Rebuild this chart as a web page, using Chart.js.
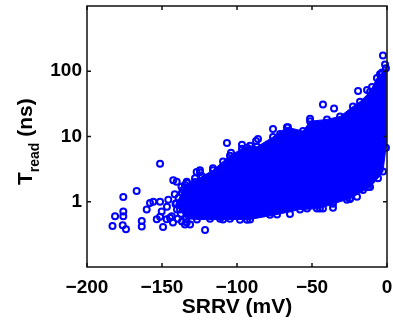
<!DOCTYPE html>
<html>
<head>
<meta charset="utf-8">
<script src="https://cdn.jsdelivr.net/npm/chart.js@4.4.1/dist/chart.umd.min.js"></script>
<style>
body{margin:0;background:#fff;}
#wrap{width:393px;height:329px;position:relative;}
</style>
</head>
<body>
<div id="wrap"><canvas id="grafica"></canvas></div>
<script>
// ticks
const xTicks=[-200,-150,-100,-50,0];
const yTicks=[1,10,100];

// borde superior de la nube densa (izq -> der)
const upperX=[-134.7,-128,-123.3,-116,-109.3,-104.7,-96.7,-91.3,-86.7,-76,-66.7,-56,-51.3,-40,-31.3,-22.7,-18,-11.3,-6.7,-3.3,-0.7];
const upperY=[1.80,2.0,2.45,3.03,4.14,5.09,6.49,7.20,6.95,9.83,13.9,12.1,17.1,18.3,20.3,28.8,34.2,48.3,78.5,93.3,111];
// borde inferior de la nube densa (der -> izq), acaba en la punta izquierda
const lowerX=[-0.7,-2.7,-6,-11.3,-24.7,-36,-44.7,-58,-73.3,-91.3,-109.3,-126.7,-134,-140.5];
const lowerY=[6.71,2.9,2.3,1.68,1.11,0.93,0.785,0.758,0.638,0.536,0.536,0.536,0.55,0.95];

// puntos sueltos (nube izquierda y los que sobresalen del borde)
const pointsX=[-183,-181.3,-176.2,-175.8,-175.8,-175.8,-174,-166.9,-163.5,-163.5,-160.2,-158,-155.8,-153.5,-151.3,-151.3,-151.3,-150.2,-149.3,-146.9,-146.7,-145.8,-144.7,-143.5,-142.7,-142.5,-140.2,-140,-138,-136.7,-136.7,-135.8,-134.7,-133.5,-133.3,-133.5,-131.3,-130,-128,-126.9,-126.7,-124.7,-124.7,-121.3,
  -141,-139,-137.5,-139.5,-137,-141.5,-138.5,
  -116,-106.7,-104,-96.7,-93.3,-87.3,-86,-76,-71.3,-66,-51.3,-42.7,-35.3,-19.3,-13.3,-10,-4.7,-3.3,-2.7,-1.3,
  -118,-111.3,-104.7,-98,-93.3,-78,-64.7,-53.3,-46.7,-42.7,-36,-26.7,-24.7,-20,-16,-12.7];
const pointsY=[0.425,0.60,0.435,0.60,0.71,1.18,0.38,1.46,0.505,0.416,0.76,0.955,1.0,0.54,3.82,1.0,0.59,0.71,0.41,0.54,0.84,1.07,0.57,0.60,0.48,2.14,2.02,0.76,0.76,0.5,1.37,1.52,0.45,2.02,1.93,0.48,0.45,1.19,2.3,2.85,0.97,2.83,3.03,0.37,
  0.92,1.15,0.65,0.55,1.7,1.3,0.88,
  3.25,7.98,5.65,7.45,6.71,8.56,9.17,13.0,10.9,13.9,18.7,30.8,26.8,50,51.8,57.5,90,96,174,127,
  0.55,0.55,0.55,0.53,0.53,0.63,0.65,0.79,0.79,0.79,0.81,1.07,1.1,1.19,1.52,1.68];

const azul='#0000ff';
const fuente='"Liberation Sans", Arial, sans-serif';

function pares(xs,ys){ return xs.map((x,i)=>({x:x,y:ys[i]})); }
const nube=pares(upperX,upperY).concat(pares(lowerX,lowerY));
const sueltos=pares(pointsX,pointsY);

// marco con ticks hacia dentro y titulo del eje y (con subindice)
const marco={
  id:'marco',
  afterDraw(chart){
    const ctx=chart.ctx, a=chart.chartArea, sx=chart.scales.x, sy=chart.scales.y;
    ctx.save();
    ctx.strokeStyle='#111';
    ctx.lineWidth=1.5;
    ctx.strokeRect(a.left,a.top,a.right-a.left,a.bottom-a.top);
    ctx.beginPath();
    xTicks.forEach(v=>{
      const p=sx.getPixelForValue(v);
      ctx.moveTo(p,a.bottom); ctx.lineTo(p,a.bottom-4);
      ctx.moveTo(p,a.top); ctx.lineTo(p,a.top+4);
    });
    yTicks.forEach(v=>{
      const p=sy.getPixelForValue(v);
      ctx.moveTo(a.left,p); ctx.lineTo(a.left+4,p);
      ctx.moveTo(a.right,p); ctx.lineTo(a.right-4,p);
    });
    ctx.stroke();
    // T_read (ns)
    ctx.translate(32,185);
    ctx.rotate(-Math.PI/2);
    ctx.fillStyle='#000';
    ctx.textBaseline='alphabetic';
    ctx.textAlign='left';
    ctx.font='bold 21px '+fuente;
    ctx.fillText('T',0,0);
    let w=ctx.measureText('T').width;
    ctx.font='bold 14px '+fuente;
    ctx.fillText('read',w,7);
    w+=ctx.measureText('read').width;
    ctx.font='bold 21px '+fuente;
    ctx.fillText(' (ns)',w,0);
    ctx.restore();
  }
};

new Chart(document.getElementById('grafica').getContext('2d'),{
  type:'scatter',
  data:{
    datasets:[
      {
        data:nube,
        showLine:true,
        fill:'shape',
        backgroundColor:azul,
        borderColor:azul,
        borderWidth:1,
        pointRadius:3,
        pointBorderWidth:2,
        pointBackgroundColor:'rgba(0,0,0,0)',
        pointBorderColor:azul,
        clip:false
      },
      {
        data:sueltos,
        pointRadius:3,
        borderWidth:2,
        borderColor:azul,
        backgroundColor:'rgba(0,0,0,0)',
        clip:false
      }
    ]
  },
  options:{
    responsive:true,
    maintainAspectRatio:false,
    animation:false,
    layout:{padding:{left:0,right:6,top:4,bottom:0}},
    plugins:{legend:{display:false},tooltip:{enabled:false}},
    scales:{
      x:{
        type:'linear',
        min:-200,max:0,
        afterBuildTicks:s=>{s.ticks=xTicks.map(v=>({value:v}));},
        afterFit:s=>{s.height=62;s.paddingLeft=0;s.paddingRight=0;},
        grid:{display:false,drawTicks:false},
        border:{display:false},
        ticks:{
          color:'#000',padding:9,maxRotation:0,autoSkip:false,
          font:{family:fuente,size:19,weight:'bold'},
          callback:v=>v<0?'\u2212'+Math.abs(v):String(v)
        },
        title:{display:true,text:'SRRV (mV)',color:'#000',padding:{top:0,bottom:9},
          font:{family:fuente,size:21,weight:'bold'}}
      },
      y:{
        type:'logarithmic',
        min:0.1,max:1000,
        afterBuildTicks:s=>{s.ticks=yTicks.map(v=>({value:v}));},
        afterFit:s=>{s.width=87;s.paddingTop=0;s.paddingBottom=0;},
        grid:{display:false,drawTicks:false},
        border:{display:false},
        ticks:{
          color:'#000',padding:5,autoSkip:false,
          font:{family:fuente,size:19,weight:'bold'},
          callback:v=>String(v)
        }
      }
    }
  },
  plugins:[marco]
});
</script>
</body>
</html>
